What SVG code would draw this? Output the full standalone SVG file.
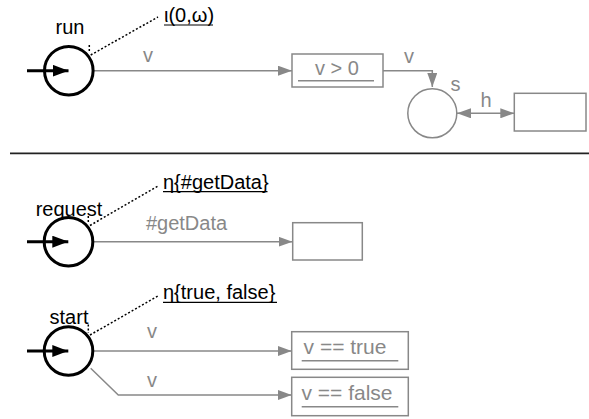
<svg xmlns="http://www.w3.org/2000/svg" width="589" height="419" viewBox="0 0 589 419">
<style>
text{font-family:"Liberation Sans",Arial,sans-serif;font-size:20px}
.blk{fill:#000}
.g{fill:#888}
.c{text-anchor:middle}
.big{font-size:21px}
.node{fill:none;stroke:#000;stroke-width:3}
.box{fill:#fff;stroke:#888;stroke-width:1.5}
.edge{fill:none;stroke:#888;stroke-width:1.5}
.dot{fill:none;stroke:#000;stroke-width:1.5;stroke-dasharray:2 2}
.ul{stroke:#000;stroke-width:1.2}
.gul{stroke:#888;stroke-width:1.5}
</style>
<defs>
<marker id="ga" markerWidth="14" markerHeight="10" refX="14" refY="5" orient="auto" markerUnits="userSpaceOnUse"><path d="M0,0 L14,5 L0,10 Z" fill="#888"/></marker>
<marker id="gs" markerWidth="14" markerHeight="10" refX="0" refY="5" orient="auto" markerUnits="userSpaceOnUse"><path d="M14,0 L0,5 L14,10 Z" fill="#888"/></marker>
<marker id="ba" markerWidth="16" markerHeight="12" refX="16" refY="6" orient="auto" markerUnits="userSpaceOnUse"><path d="M0,0 L16,6 L0,12 Z" fill="#000"/></marker>
</defs>

<g id="separator"><line x1="10" y1="153.3" x2="589" y2="153.3" stroke="#222" stroke-width="1.8"/></g>

<g id="connectors">
<line class="edge" x1="94" y1="70.7" x2="292" y2="70.7" marker-end="url(#ga)"/>
<text class="g c" x="148" y="61.5">v</text>
<path class="edge" d="M383,70.7 H432.3 V87" marker-end="url(#ga)"/>
<text class="g c" x="409" y="63.3">v</text>
<line class="edge" x1="457" y1="113.3" x2="514.3" y2="113.3" marker-start="url(#gs)" marker-end="url(#ga)"/>
<text class="g c" x="486" y="106.7">h</text>
<line class="edge" x1="94" y1="241.7" x2="292.5" y2="241.7" marker-end="url(#ga)"/>
<text class="g c" x="186.5" y="230">#getData</text>
<line class="edge" x1="94" y1="351" x2="291.7" y2="351" marker-end="url(#ga)"/>
<text class="g c" x="152" y="338">v</text>
<path class="edge" d="M90.7,368.3 L118.3,395 H291.7" marker-end="url(#ga)"/>
<text class="g c" x="152" y="386.7">v</text>
</g>

<g id="run">
<line x1="27" y1="70.7" x2="68.5" y2="70.7" stroke="#000" stroke-width="3" marker-end="url(#ba)"/>
<circle class="node" cx="68.8" cy="70.7" r="24.3"/>
<text class="blk c" x="70" y="34">run</text>
<line class="dot" x1="89.3" y1="45" x2="89.3" y2="52"/>
<line class="dot" x1="90.7" y1="55" x2="158" y2="17"/>
<text class="blk" x="164" y="21.5">ι(0,ω)</text>
<line class="ul" x1="164" y1="25" x2="213" y2="25"/>
</g>

<g id="cond-gt0">
<rect class="box" x="292" y="54" width="91" height="33"/>
<text class="g c" x="337" y="74.5">v &gt; 0</text>
<line class="gul" x1="298" y1="80.7" x2="374" y2="80.7"/>
</g>

<g id="state-s">
<circle class="edge" cx="432.3" cy="113.3" r="24.5"/>
<text class="g c" x="455.5" y="90.5">s</text>
</g>

<g id="box-h">
<rect class="box" x="514.3" y="93.3" width="71.7" height="37.7"/>
</g>

<g id="request">
<line x1="27" y1="241.7" x2="68.3" y2="241.7" stroke="#000" stroke-width="3" marker-end="url(#ba)"/>
<circle class="node" cx="68.5" cy="241.7" r="24.3"/>
<text class="blk c" x="69" y="216">request</text>
<line class="dot" x1="88.3" y1="216" x2="88.3" y2="223"/>
<line class="dot" x1="90" y1="225.5" x2="158" y2="186"/>
<text class="blk" x="163" y="188.5">η{#getData}</text>
<line class="ul" x1="163" y1="191.7" x2="267.5" y2="191.7"/>
</g>

<g id="box-getData">
<rect class="box" x="292.7" y="222.7" width="69.6" height="37.3"/>
</g>

<g id="start">
<line x1="27" y1="351" x2="68.3" y2="351" stroke="#000" stroke-width="3" marker-end="url(#ba)"/>
<circle class="node" cx="68.5" cy="351" r="24.3"/>
<text class="blk c" x="69" y="323.5">start</text>
<line class="dot" x1="88.3" y1="324.5" x2="88.3" y2="333"/>
<line class="dot" x1="90" y1="335" x2="158" y2="296"/>
<text class="blk" x="163" y="299">η{true, false}</text>
<line class="ul" x1="163" y1="302.3" x2="277" y2="302.3"/>
</g>

<g id="cond-true">
<rect class="box" x="291.7" y="331.7" width="116.6" height="37.6"/>
<text class="g c big" x="345" y="354.3">v == true</text>
<line class="gul" x1="301.7" y1="360.7" x2="398.3" y2="360.7"/>
</g>

<g id="cond-false">
<rect class="box" x="291.7" y="377.3" width="116.6" height="38.4"/>
<text class="g c big" x="347" y="400">v == false</text>
<line class="gul" x1="301.7" y1="406.7" x2="398.3" y2="406.7"/>
</g>
</svg>
